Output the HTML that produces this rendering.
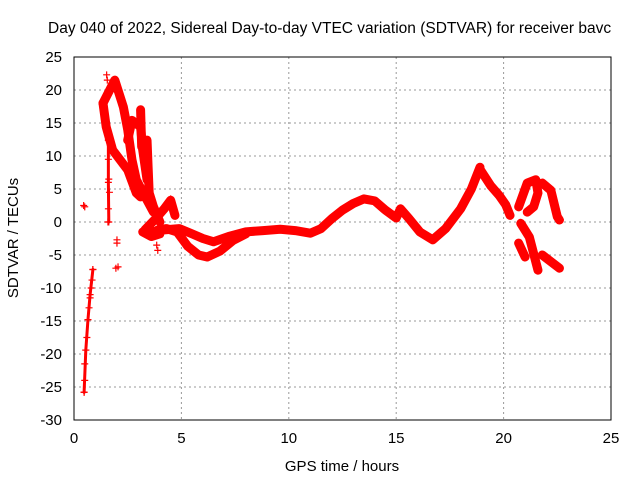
<!DOCTYPE html>
<html><head><meta charset="utf-8"><style>
body{margin:0;background:#fff}
svg{display:block;font-family:"Liberation Sans",sans-serif}
</style></head><body>
<svg id="chart" width="640" height="480">
<text x="48" y="33" font-size="15.5">Day 040 of 2022, Sidereal Day-to-day VTEC variation (SDTVAR) for receiver bavc</text>
<g id="grid"></g><g id="ticks"></g><g id="marks"></g>
<rect x="74" y="57" width="537" height="363" fill="none" stroke="#000" stroke-width="1"/>
<text x="342" y="471" font-size="15" text-anchor="middle">GPS time / hours</text>
<text transform="translate(18,238) rotate(-90)" font-size="15" text-anchor="middle">SDTVAR / TECUs</text>
</svg>
<script>
const xTicks=[0,5,10,15,20,25];
const yTicks=[25,20,15,10,5,0,-5,-10,-15,-20,-25,-30];
// thick dense segments
const bandT=[
[3.6,4.2,4.9,5.5,6.0,6.5,7.2,8.0,8.8,9.6,10.3,11.0,11.5,12.0,12.5,13.0,13.5,14.0,14.5,15.0,15.2,15.6,16.1,16.7,17.3,18.0,18.5,18.9],
[3.9,4.3,4.8,5.3,5.8,6.2,6.8,7.4,8.0],
[18.9,19.4,19.8,20.1,20.3],
[1.35,1.9,2.3,2.5,2.7,2.9,3.4,3.7],
[1.35,1.5,1.8,2.5,2.9,3.1],
[2.5,2.7,3.1,3.2,3.4],
[3.1,3.15,3.4,3.45,3.5,3.7,4.0],
[3.3,3.8,4.2,4.5,4.7],
[20.7,21.1,21.5,21.6,21.4,21.1],
[21.8,22.2,22.5,22.6],
[20.8,21.2,21.6],
[20.7,21.0],
[21.8,22.6],
[3.2,3.6,4.0]];
const bandV=[
[-1.5,-1.2,-1.0,-1.8,-2.5,-3.0,-2.2,-1.5,-1.3,-1.1,-1.3,-1.7,-1.0,0.5,1.8,2.8,3.5,3.2,1.8,0.6,2.0,0.5,-1.5,-2.7,-1.0,2.0,5.0,8.3],
[-1.2,-1.0,-1.5,-3.7,-5.0,-5.3,-4.4,-2.8,-1.8],
[8.0,5.5,4.0,2.6,1.0],
[18.0,21.5,17.4,14.0,9.4,6.4,3.3,1.5],
[18.0,14.4,10.9,7.9,4.4,3.8],
[12.4,15.4,14.4,10.9,6.4],
[17.0,11.4,12.4,8.3,4.4,2.3,0.0],
[-1.2,0.5,2.0,3.3,1.0],
[2.3,5.9,6.4,4.4,2.3,1.5],
[5.9,4.8,0.8,0.3],
[-0.2,-2.3,-7.3],
[-3.2,-5.3],
[-5.0,-7.0],
[-1.5,-2.2,-1.8]];
// thinner dense columns
const colT=[[0.47,0.55,0.65,0.75,0.88],[1.6,1.6,1.62]];
const colV=[[-25.8,-19.4,-14.8,-11,-7.2],[12.4,6,0.0]];
// sparse scattered points
const ptT=[0.47,0.5,0.5,0.55,0.6,0.65,0.7,0.75,0.8,0.84,0.88,0.5,0.45,1.52,1.55,1.6,1.6,1.62,1.65,1.6,1.58,2.0,2.0,2.05,1.95,3.9,3.85,4.5];
const ptV=[-25.8,-24,-21.5,-19.4,-17.5,-14.8,-13,-11.5,-10,-8.8,-7.2,2.3,2.5,22.3,21.5,12.4,9.5,6.5,4.5,2.0,0.0,-2.7,-3.2,-6.8,-7.0,-4.3,-3.5,3.5];
const X=t=>74+t*21.48, Y=v=>222-v*6.6;
const NS="http://www.w3.org/2000/svg";
const g=document.getElementById('grid'),tk=document.getElementById('ticks'),m=document.getElementById('marks');
function mk(tag,a){const e=document.createElementNS(NS,tag);for(const k in a)e.setAttribute(k,a[k]);return e;}
xTicks.forEach(t=>{
 if(t>0&&t<25){const l=mk('line',{x1:X(t),x2:X(t),y1:57,y2:420,stroke:'#999','stroke-dasharray':'2,3'});
 
 g.appendChild(l);}
 const s=mk('text',{x:X(t),y:443,'font-size':15,'text-anchor':'middle'});s.textContent=t;
 
 tk.appendChild(s);
});
yTicks.forEach(v=>{
 if(v<25&&v>-30){const l=mk('line',{x1:74,x2:611,y1:Y(v),y2:Y(v),stroke:'#999','stroke-dasharray':'2,3'});
 
 g.appendChild(l);}
 const s=mk('text',{x:62,y:Y(v)+5,'font-size':15,'text-anchor':'end'});s.textContent=v;
 
 tk.appendChild(s);
});
function plus(x,y){const p=mk('path',{d:`M${x-3.5} ${y}h7M${x} ${y-3.5}v7`,stroke:'#f00','stroke-width':1.2,fill:'none'});
 
 m.appendChild(p);}
function track(ts,vs,w){
 const pts=ts.map((t,j)=>X(t)+','+Y(vs[j])).join(' ');
 const pl=mk('polyline',{points:pts,fill:'none',stroke:'#f00','stroke-width':w,'stroke-linejoin':'round','stroke-linecap':'round'});
 
 
 m.appendChild(pl);
 ts.forEach((t,j)=>plus(X(t),Y(vs[j])));
}
bandT.forEach((ts,i)=>track(ts,bandV[i],9));
colT.forEach((ts,i)=>track(ts,colV[i],3));
ptT.forEach((t,i)=>plus(X(t),Y(ptV[i])));
</script>
</body></html>
